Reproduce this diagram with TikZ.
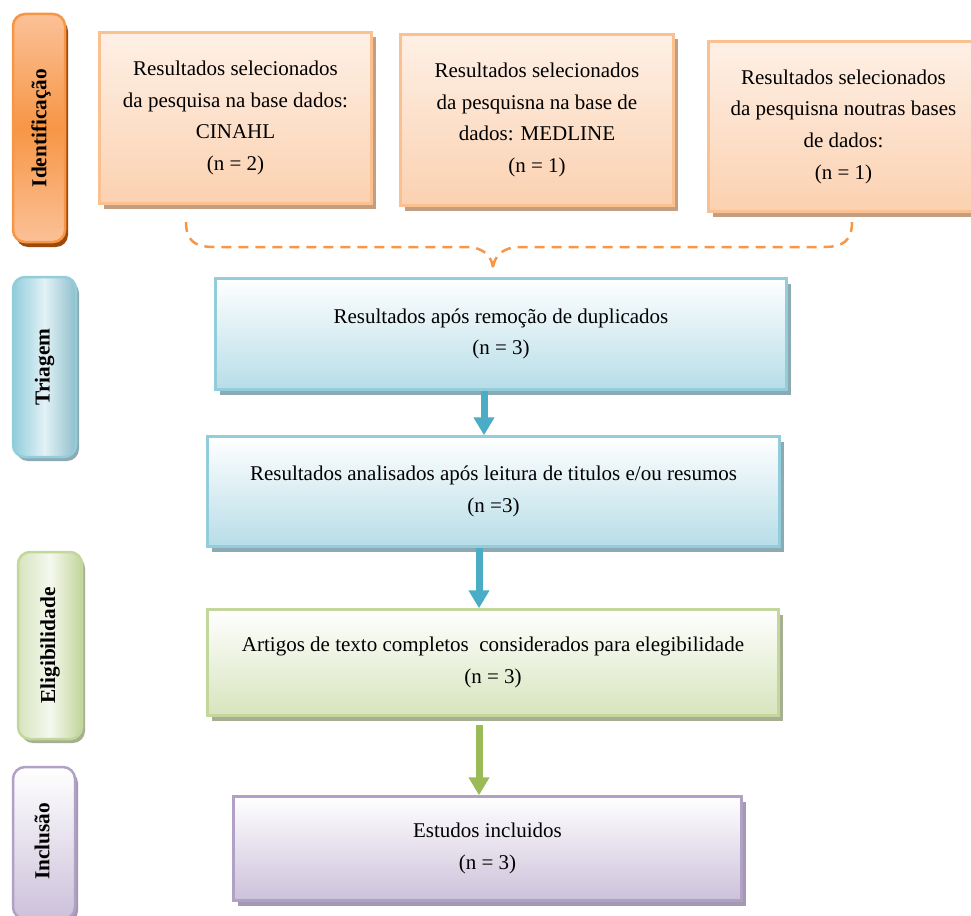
\documentclass[tikz,border=0pt]{standalone}
\usepackage{fontspec}
\setmainfont{Liberation Serif}
\usetikzlibrary{arrows.meta,shadows}
\definecolor{topA}{HTML}{FEF0E6}
\definecolor{topB}{HTML}{FBD1B0}
\definecolor{topBorder}{HTML}{FAC08F}
\definecolor{topShadow}{HTML}{C49E80}
\definecolor{blueB}{HTML}{B7DDE8}
\definecolor{blueBorder}{HTML}{92CDDC}
\definecolor{blueShadow}{HTML}{8DA9B2}
\definecolor{greenB}{HTML}{D7E4BD}
\definecolor{greenBorder}{HTML}{C3D69B}
\definecolor{greenShadow}{HTML}{A6AF92}
\definecolor{purpB}{HTML}{CCC1DA}
\definecolor{purpBorder}{HTML}{B2A1C7}
\definecolor{purpShadow}{HTML}{A39AB1}
\definecolor{orangeMain}{HTML}{F79646}
\definecolor{orangeLight}{HTML}{FBC197}
\definecolor{orangeShadow}{HTML}{9C4A0C}
\definecolor{arrBlue}{HTML}{4BACC6}
\definecolor{arrGreen}{HTML}{9BBB59}
\tikzset{
  txt/.style={font=\fontsize{21}{31.7}\selectfont, align=center, text=black},
  flowbox/.style={draw, line width=2.5pt, rectangle, inner sep=0pt, txt},
  topbox/.style={flowbox, draw=topBorder, top color=topA, bottom color=topB,
    drop shadow={shadow xshift=4pt, shadow yshift=-5pt, fill=topShadow, opacity=1}},
  bluebox/.style={flowbox, draw=blueBorder, top color=white, bottom color=blueB,
    drop shadow={shadow xshift=4pt, shadow yshift=-5pt, fill=blueShadow, opacity=1}},
  greenbox/.style={flowbox, draw=greenBorder, top color=white, bottom color=greenB,
    drop shadow={shadow xshift=4pt, shadow yshift=-5pt, fill=greenShadow, opacity=1}},
  purpbox/.style={flowbox, draw=purpBorder, top color=white, bottom color=purpB,
    drop shadow={shadow xshift=4pt, shadow yshift=-5pt, fill=purpShadow, opacity=1}},
  sidebox/.style={draw, line width=2.5pt, rectangle, rounded corners=12pt, inner sep=0pt},
  sidetxt/.style={rotate=90, font=\fontsize{21.3}{25}\selectfont\bfseries, text=black, inner sep=0pt},
  flowarrow/.style={line width=7pt, -{Triangle[width=20pt,length=18pt]}},
  brace/.style={draw=orangeMain, line width=2.5pt, dash pattern=on 10pt off 7pt, line cap=butt}
}
\begin{document}
\begin{tikzpicture}[x=1pt,y=-1pt]
\useasboundingbox (0,0) rectangle (971,915);
\clip (0,0) rectangle (971,915);
% side labels
\node[sidebox, draw=orangeMain, top color=orangeLight, bottom color=orangeLight, middle color=orangeMain,
  minimum width=52pt, minimum height=228pt,
  drop shadow={shadow xshift=3pt, shadow yshift=-5pt, fill=orangeShadow, opacity=1}] (s1) at (39,128) {};
\node[sidetxt] (s1t) at (41,128) {Identificação};
\node[sidebox, draw=blueBorder, left color=blueBorder, right color=blueBorder!90!black!90, middle color=blueB!40!white,
  minimum width=63pt, minimum height=180pt,
  drop shadow={shadow xshift=3pt, shadow yshift=-4pt, fill=blueShadow, opacity=1}] (s2) at (44.5,367) {};
\node[sidetxt] (s2t) at (s2) {Triagem};
\node[sidebox, draw=greenBorder, left color=greenB, right color=greenBorder, middle color=greenB!25!white,
  minimum width=64pt, minimum height=187pt,
  drop shadow={shadow xshift=3pt, shadow yshift=-4pt, fill=greenShadow, opacity=1}] (s3) at (50,645.5) {};
\node[sidetxt] (s3t) at (s3) {Eligibilidade};
\node[sidebox, draw=purpBorder, top color=white, bottom color=purpB,
  minimum width=62pt, minimum height=152pt,
  drop shadow={shadow xshift=3pt, shadow yshift=-4pt, fill=purpShadow, opacity=1}] (s4) at (44,843) {};
\node[sidetxt] (s4t) at (42,841.5) {Inclusão};
% top boxes
\node[topbox, minimum width=272pt, minimum height=171pt] (a) at (235.5,118)
  {Resultados selecionados\\da pesquisa na base dados:\\CINAHL\\(n = 2)};
\node[topbox, minimum width=273pt, minimum height=171pt] (b) at (537,120)
  {Resultados selecionados\\da pesquisna na base de\\dados: MEDLINE\\(n = 1)};
\node[topbox, minimum width=270pt, minimum height=170pt] (c) at (843.5,126.5)
  {Resultados selecionados\\da pesquisna noutras bases\\de dados:\\(n = 1)};
% brace
\coordinate (bl) at (186,222);
\coordinate (br) at (852,222);
\coordinate (bm) at (493,270);
\path[brace] (bl) .. controls (186,240) and (194,247) .. (214,247) -- (466,247)
  .. controls (484,247) and (493,257) .. (bm);
\path[brace] (br) .. controls (852,240) and (844,247) .. (824,247) -- (520,247)
  .. controls (502,247) and (493,257) .. (bm);
% flow boxes
\node[bluebox, minimum width=571pt, minimum height=111pt] (t1) at (501,334)
  {Resultados após remoção de duplicados\\(n = 3)};
\node[bluebox, minimum width=572pt, minimum height=110pt] (t2) at (493.5,491.5)
  {Resultados analisados após leitura de titulos e/ou resumos\\(n =3)};
\node[greenbox, minimum width=571pt, minimum height=106pt] (e1) at (493,662.5)
  {Artigos de texto completos\ \ considerados para elegibilidade\\(n = 3)};
\node[purpbox, minimum width=508pt, minimum height=104pt] (i1) at (487.5,848.5)
  {Estudos incluidos\\(n = 3)};
% arrows
\coordinate (x1) at (484,0);
\coordinate (x2) at (479,0);
\draw[flowarrow, arrBlue] (t1.south -| x1) -- (t2.north -| x1);
\draw[flowarrow, arrBlue] (t2.south -| x2) -- (e1.north -| x2);
\draw[flowarrow, arrGreen] ([yshift=-8pt]e1.south -| x2) -- (i1.north -| x2);
\end{tikzpicture}
\end{document}
